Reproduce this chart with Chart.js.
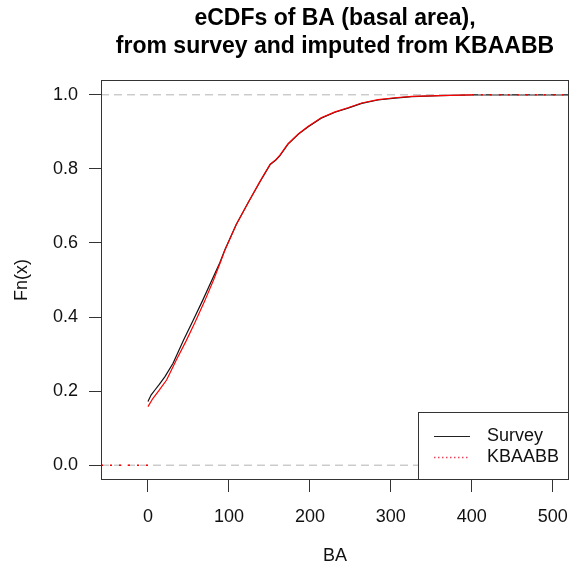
<!DOCTYPE html>
<html>
<head>
<meta charset="utf-8">
<script src="https://cdn.jsdelivr.net/npm/chart.js@4/dist/chart.umd.min.js"></script>
<style>
  html, body { margin: 0; padding: 0; background: #fff; }
  #wrap { width: 576px; height: 576px; }
</style>
</head>
<body>
<div id="wrap"><canvas id="ecdf_plot"></canvas></div>
<script>
// eCDF of basal area: survey values vs. values imputed from KBAABB
const survey_ba = [0, 4, 8.6, 14, 21, 31, 44, 56, 68, 80, 89, 95, 109, 124, 138, 145, 151, 158, 163, 173, 186, 198, 214, 231, 247, 264, 284, 305, 326, 360, 400];
const survey_fn = [0.172, 0.19, 0.203, 0.218, 0.239, 0.275, 0.338, 0.392, 0.447, 0.505, 0.548, 0.582, 0.65, 0.71, 0.764, 0.79, 0.812, 0.824, 0.836, 0.867, 0.894, 0.914, 0.937, 0.953, 0.964, 0.977, 0.986, 0.991, 0.995, 0.998, 1.0];

const kbaabb_ba = [0, 6, 13, 23, 35, 47, 58, 70, 81, 89, 95, 109, 124, 138, 145, 151, 158, 163, 173, 186, 198, 214, 231, 247, 264, 284, 305, 326, 360, 400];
const kbaabb_fn = [0.158, 0.18, 0.2, 0.23, 0.284, 0.335, 0.385, 0.443, 0.5, 0.545, 0.58, 0.649, 0.71, 0.765, 0.791, 0.813, 0.825, 0.837, 0.868, 0.895, 0.915, 0.938, 0.954, 0.965, 0.978, 0.987, 0.992, 0.996, 0.998, 1.0];

const x_lim = [-58, 520];
const y_lim = [-0.04, 1.04];
const x_ticks = [0, 100, 200, 300, 400, 500];
const y_ticks = [0, 0.2, 0.4, 0.6, 0.8, 1.0];

const legend_labels = ["Survey", "KBAABB"];
const title_lines = ["eCDFs of BA (basal area),", "from survey and imputed from KBAABB"];

const FONT = "'Liberation Sans', Arial, Helvetica, sans-serif";

function pts(xs, ys) {
  return xs.map((x, i) => ({ x: x, y: ys[i] }));
}

const last = (a) => a[a.length - 1];

// R-style box around the plot region plus the boxed legend in the corner
const box_plugin = {
  id: 'box_plugin',
  afterDraw(chart) {
    const ctx = chart.ctx;
    const a = chart.chartArea;
    ctx.save();
    ctx.strokeStyle = '#333';
    ctx.lineWidth = 1;
    ctx.strokeRect(Math.round(a.left) + 0.5, Math.round(a.top) + 0.5,
                   Math.round(a.right - a.left) - 1, Math.round(a.bottom - a.top) - 1);

    const lw = 151, lh = 68;
    const lx = Math.round(a.right) - lw, ly = Math.round(a.bottom) - lh;
    ctx.fillStyle = '#fff';
    ctx.fillRect(lx, ly, lw, lh);
    ctx.strokeRect(lx + 0.5, ly + 0.5, lw - 1, lh - 1);

    ctx.font = '18px ' + FONT;
    ctx.textBaseline = 'middle';
    ctx.fillStyle = '#111';
    const rows = [ly + 24, ly + 45];
    ctx.strokeStyle = '#222';
    ctx.beginPath();
    ctx.moveTo(lx + 16, rows[0] + 0.5);
    ctx.lineTo(lx + 52, rows[0] + 0.5);
    ctx.stroke();
    ctx.strokeStyle = '#e8455e';
    ctx.lineWidth = 1.3;
    ctx.setLineDash([1.5, 2.5]);
    ctx.beginPath();
    ctx.moveTo(lx + 16, rows[1] + 0.5);
    ctx.lineTo(lx + 52, rows[1] + 0.5);
    ctx.stroke();
    ctx.setLineDash([]);
    ctx.fillText(legend_labels[0], lx + 69, rows[0]);
    ctx.fillText(legend_labels[1], lx + 69, rows[1]);
    ctx.restore();
  }
};

const ecdf_chart = new Chart(
  document.querySelector('#ecdf_plot'),
  {
    type: 'line',
    data: {
      datasets: [
        {
          label: legend_labels[1],
          data: pts(kbaabb_ba, kbaabb_fn),
          borderColor: 'red',
          borderWidth: 1.2,
          pointRadius: 0,
          order: 0
        },
        {
          label: 'kbaabb tails',
          data: [{ x: x_lim[0], y: 0 }, { x: 0, y: 0 }, { x: NaN, y: NaN },
                 { x: last(kbaabb_ba), y: 1 }, { x: x_lim[1], y: 1 }],
          borderColor: 'red',
          borderWidth: 1.5,
          borderDash: [2, 7],
          spanGaps: false,
          pointRadius: 0,
          order: 0
        },
        {
          label: 'h = 0',
          data: [{ x: x_lim[0], y: 0 }, { x: x_lim[1], y: 0 }],
          borderColor: '#b3b3b3',
          borderWidth: 1,
          borderDash: [8, 5],
          pointRadius: 0,
          order: 1
        },
        {
          label: 'h = 1',
          data: [{ x: x_lim[0], y: 1 }, { x: x_lim[1], y: 1 }],
          borderColor: '#b3b3b3',
          borderWidth: 1,
          borderDash: [8, 5],
          pointRadius: 0,
          order: 1
        },
        {
          label: legend_labels[0],
          data: pts(survey_ba, survey_fn).concat([{ x: x_lim[1], y: 1 }]),
          borderColor: '#111',
          borderWidth: 1.2,
          pointRadius: 0,
          order: 2
        }
      ]
    },
    options: {
      responsive: true,
      maintainAspectRatio: false,
      animation: false,
      layout: { padding: { right: 7 } },
      scales: {
        x: {
          type: 'linear',
          position: 'bottom',
          min: x_lim[0],
          max: x_lim[1],
          afterBuildTicks: (s) => { s.ticks = x_ticks.map(v => ({ value: v })); },
          afterFit: (s) => { s.height = 96; s.paddingLeft = 0; s.paddingRight = 0; },
          grid: { drawOnChartArea: false, drawTicks: true, tickLength: 12, color: '#333' },
          border: { display: false },
          ticks: { padding: 14, color: '#111', font: { family: FONT, size: 18 }, maxRotation: 0 },
          title: { display: true, text: 'BA', color: '#111', font: { family: FONT, size: 18 }, padding: { bottom: 9 } }
        },
        y: {
          type: 'linear',
          min: y_lim[0],
          max: y_lim[1],
          afterBuildTicks: (s) => { s.ticks = y_ticks.map(v => ({ value: v })); },
          afterFit: (s) => { s.width = 101; s.paddingTop = 0; s.paddingBottom = 0; },
          grid: { drawOnChartArea: false, drawTicks: true, tickLength: 12, color: '#333' },
          border: { display: false },
          ticks: {
            padding: 11, color: '#111', font: { family: FONT, size: 18 },
            callback: (v) => v.toFixed(1)
          },
          title: { display: true, text: 'Fn(x)', color: '#111', font: { family: FONT, size: 18 }, padding: { top: 11 } }
        }
      },
      plugins: {
        legend: { display: false },
        tooltip: { enabled: false },
        title: {
          display: true,
          fullSize: false,
          text: title_lines,
          color: '#000',
          font: { family: FONT, size: 23, weight: 'bold', lineHeight: 1.25 },
          padding: { top: 4, bottom: 18.5 }
        }
      }
    },
    plugins: [box_plugin]
  }
);
</script>
</body>
</html>
